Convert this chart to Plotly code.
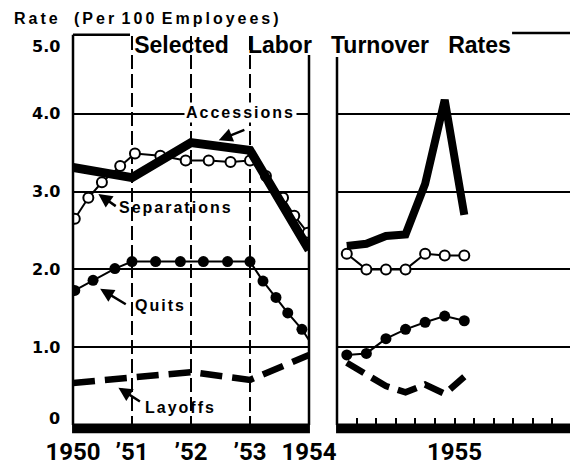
import plotly.graph_objects as go

# ---------------- data ----------------
# Left panel: 1950-1954 (x in decimal years)
acc_years = [1950, 1951, 1952, 1953, 1954]
acc_rates = [3.31, 3.18, 3.63, 3.53, 2.25]

lay_years = [1950, 1951, 1952, 1953, 1954]
lay_rates = [0.54, 0.60, 0.68, 0.58, 0.90]

sep_years = [1950.03, 1950.26, 1950.49, 1950.80, 1951.05, 1951.48, 1951.91,
             1952.30, 1952.67, 1953.00, 1953.27, 1953.56, 1953.75, 1953.98]
sep_rates = [2.65, 2.92, 3.12, 3.33, 3.49, 3.46, 3.40,
             3.40, 3.38, 3.40, 3.20, 2.92, 2.69, 2.47]

quit_years = [1950.03, 1950.34, 1950.71, 1951.00, 1951.40, 1951.82, 1952.21,
              1952.62, 1953.00, 1953.22, 1953.44, 1953.64, 1953.88, 1954.00]
quit_rates = [1.73, 1.86, 2.01, 2.10, 2.10, 2.10, 2.10,
              2.10, 2.10, 1.85, 1.64, 1.44, 1.23, 1.09]

# Right panel: 1955, monthly
months = ["Jan", "Feb", "Mar", "Apr", "May", "Jun",
          "Jul", "Aug", "Sep", "Oct", "Nov", "Dec"]
months_1955 = months[:7]
acc_1955 = [2.30, 2.33, 2.43, 2.45, 3.10, 4.18, 2.70]
sep_1955 = [2.20, 2.00, 2.00, 2.00, 2.20, 2.18, 2.18]
quit_1955 = [0.90, 0.92, 1.11, 1.23, 1.32, 1.40, 1.34]
lay_1955 = [0.80, 0.65, 0.50, 0.42, 0.52, 0.40, 0.62]

x_tick_years = [1950, 1951, 1952, 1953, 1954]
x_tick_text = ["1950", "\u201951", "\u201952", "\u201953", "1954"]
y_grid_vals = [1, 2, 3, 4]
y_tick_text = ["0", "1.0", "2.0", "3.0", "4.0", "5.0"]

# ---------------- page geometry ----------------
# the page body has an 8px margin, so the figure is 8px smaller each way
W, H, OFF = 570, 457, 8


def px(xs):  # screen x -> paper fraction
    return (xs - OFF) / W


def py(ys):  # screen y -> paper fraction
    return 1 - (ys - OFF) / H


# ---------------- styles ----------------
BLK = "black"
LAB_FONT = dict(family="Liberation Sans", size=16, color=BLK, weight="bold")
TICK_FONT = dict(family="DejaVu Sans", size=16, color=BLK, weight="bold")
YEAR_FONT = dict(family="Roboto", size=24, color=BLK, weight="bold")


def sp(t, ls=2):
    return f'<span style="letter-spacing:{ls}px">{t}</span>'


fig = go.Figure()

# Layoffs (dashed)
fig.add_trace(go.Scatter(x=lay_years, y=lay_rates, mode="lines", xaxis="x", yaxis="y",
                         line=dict(color=BLK, width=6.5, dash="22px,10px"), showlegend=False))
fig.add_trace(go.Scatter(x=months_1955, y=lay_1955, mode="lines", xaxis="x2", yaxis="y",
                         line=dict(color=BLK, width=6.5, dash="20px,9px"), showlegend=False))
# Quits (filled dots) - last 1954 point ends the line without a dot
fig.add_trace(go.Scatter(x=quit_years, y=quit_rates, mode="lines", xaxis="x", yaxis="y",
                         line=dict(color=BLK, width=2), showlegend=False))
fig.add_trace(go.Scatter(x=quit_years[:-1], y=quit_rates[:-1], mode="markers", xaxis="x", yaxis="y",
                         marker=dict(color=BLK, size=11), showlegend=False))
fig.add_trace(go.Scatter(x=months_1955, y=quit_1955, mode="lines+markers", xaxis="x2", yaxis="y",
                         line=dict(color=BLK, width=2),
                         marker=dict(color=BLK, size=11), showlegend=False))
# Separations (open circles)
fig.add_trace(go.Scatter(x=sep_years, y=sep_rates, mode="lines+markers", xaxis="x", yaxis="y",
                         line=dict(color=BLK, width=2),
                         marker=dict(color="white", size=10, line=dict(color=BLK, width=2)),
                         showlegend=False))
fig.add_trace(go.Scatter(x=months_1955, y=sep_1955, mode="lines+markers", xaxis="x2", yaxis="y",
                         line=dict(color=BLK, width=2),
                         marker=dict(color="white", size=10, line=dict(color=BLK, width=2)),
                         showlegend=False))
# Accessions (heavy line)
fig.add_trace(go.Scatter(x=acc_years, y=acc_rates, mode="lines", xaxis="x", yaxis="y",
                         line=dict(color=BLK, width=9), showlegend=False))
fig.add_trace(go.Scatter(x=months_1955, y=acc_1955, mode="lines", xaxis="x2", yaxis="y",
                         line=dict(color=BLK, width=8), showlegend=False))

# ---------------- frame shapes ----------------
shapes = []
LW = 2.5


def vline(xref, x, y0, y1):
    shapes.append(dict(type="line", xref=xref, yref="y domain", x0=x, x1=x, y0=y0, y1=y1,
                       line=dict(color=BLK, width=LW), layer="above"))


def hline(xref, x0, x1, y):
    shapes.append(dict(type="line", xref=xref, yref="y domain", x0=x0, x1=x1, y0=y, y1=y,
                       line=dict(color=BLK, width=LW), layer="above"))


vline("x domain", 0, 0, 1.003)
vline("x domain", 1, 0, 0.951)
hline("x domain", 0, 0.2415, 1.003)
vline("x2 domain", 0, 0, 0.946)
vline("x2 domain", 1, 0, 1.008)
hline("x2 domain", 0.745, 1, 1.008)
for xr in ("x domain", "x2 domain"):
    shapes.append(dict(type="rect", xref=xr, yref="y domain", x0=-0.004, x1=1.004,
                       y0=-0.021, y1=0.004, fillcolor=BLK, line=dict(width=0), layer="above"))

# ---------------- annotations ----------------
ann = []


def label(text, x, y, bg=None):
    d = dict(text=sp(text), x=x, y=y, xref="x", yref="y", showarrow=False,
             font=LAB_FONT, xanchor="center", yanchor="middle")
    if bg:
        d.update(bgcolor=bg, borderpad=1)
    ann.append(d)


def arrow(hx, hy, tx, ty):
    ann.append(dict(text="", x=hx, y=hy, ax=tx, ay=ty, xref="x", yref="y",
                    axref="x", ayref="y", showarrow=True, arrowhead=2, arrowsize=1.1,
                    arrowwidth=2.5, arrowcolor=BLK, standoff=0, startstandoff=0))


label("Accessions", 1952.84, 4.02, bg="white")
arrow(1952.47, 3.66, 1952.93, 3.80)
label("Separations", 1951.74, 2.79)
arrow(1950.43, 2.97, 1950.75, 2.80)
label("Quits", 1951.48, 1.53)
arrow(1950.46, 1.75, 1950.92, 1.54)
label("Layoffs", 1951.82, 0.23)
arrow(1950.77, 0.48, 1951.16, 0.29)

# y-axis value labels (placed as in the original: 0 and 5.0 nudged inward)
for val, txt in zip([0.08, 1, 2, 3, 4, 4.86], y_tick_text):
    ann.append(dict(text=txt, x=-0.045, y=val, xref="x domain", yref="y", showarrow=False,
                    xanchor="right", yanchor="middle", font=TICK_FONT))

ann.append(dict(text=sp("Rate", 3) + "\u00a0\u00a0\u00a0" + sp("(Per", 3) + "\u00a0" +
                sp("100", 3) + "\u00a0" + sp("Employees)", 3),
                x=px(148), y=py(18), xref="paper", yref="paper", showarrow=False,
                xanchor="center", yanchor="middle", font=LAB_FONT))
ann.append(dict(text="1955", x=0.5, y=-0.069, xref="x2 domain", yref="y domain",
                showarrow=False, xanchor="center", yanchor="middle", font=YEAR_FONT))

fig.update_layout(
    width=W, height=H,
    margin=dict(l=0, r=0, t=0, b=0, autoexpand=False),
    paper_bgcolor="white", plot_bgcolor="white",
    title=dict(text="Selected\u00a0\u00a0\u00a0Labor\u00a0\u00a0\u00a0Turnover\u00a0\u00a0\u00a0Rates",
               x=px(322.5), xanchor="center", y=py(45), yanchor="middle",
               font=dict(family="Liberation Sans", size=23, color=BLK, weight="bold")),
    xaxis=dict(domain=[px(73), px(309)], range=[1950, 1954], anchor="y", automargin=False,
               tickvals=x_tick_years, ticktext=x_tick_text, tickfont=YEAR_FONT,
               showgrid=False, zeroline=False, showline=False, ticks="",
               ticklabelstandoff=10,
               minor=dict(tickvals=[1951, 1952, 1953], showgrid=True, gridcolor=BLK,
                          gridwidth=1.5, griddash="14px,5px", ticks="")),
    xaxis2=dict(domain=[px(337), px(572)], type="category", categoryorder="array",
                categoryarray=months, range=[-0.5, 11.5], anchor="y", automargin=False,
                showticklabels=False, showgrid=False, zeroline=False, showline=False,
                ticks="inside", tickson="boundaries", ticklen=7, tickwidth=2, tickcolor=BLK),
    yaxis=dict(domain=[py(425), py(36)], range=[0, 5], anchor="x", automargin=False,
               tickvals=y_grid_vals, showticklabels=False, showgrid=True,
               gridcolor=BLK, gridwidth=1.5, zeroline=False, showline=False, ticks=""),
    shapes=shapes,
    annotations=ann,
)

fig.write_html("out.html")
